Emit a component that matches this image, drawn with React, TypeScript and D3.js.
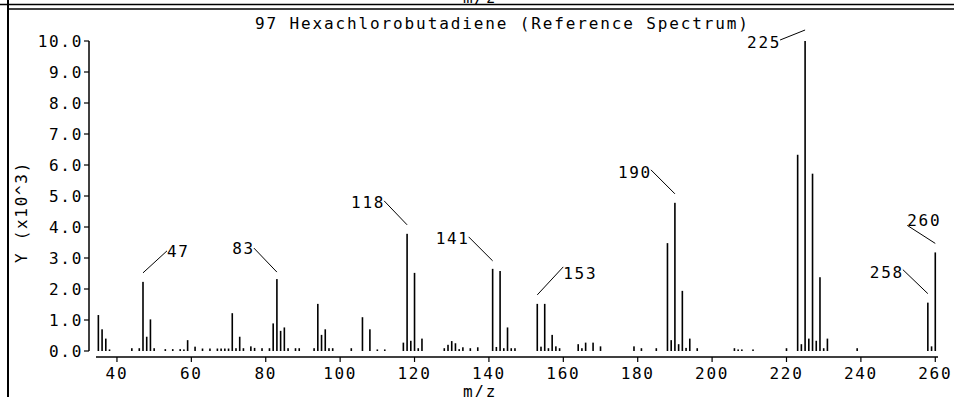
import React from "react";
import * as d3 from "d3";

// m/z values and intensities (units of 10^3)
const mzValues = [
  35, 36, 37, 38, 44, 46, 47, 48, 49, 50, 53, 55, 57, 58, 59, 61, 63, 65, 67, 68, 69, 70,
  71, 72, 73, 74, 76, 77, 79, 81, 82, 83, 84, 85, 86, 88, 89, 93, 94, 95, 96, 97, 98, 103,
  106, 108, 110, 112, 117, 118, 119, 120, 121, 122, 128, 129, 130, 131, 132, 133, 135, 137,
  141, 142, 143, 144, 145, 146, 147, 153, 154, 155, 156, 157, 158, 159, 164, 165, 166, 168,
  170, 179, 181, 185, 188, 189, 190, 191, 192, 193, 194, 196, 206, 207, 208, 211, 220, 223,
  224, 225, 226, 227, 228, 229, 230, 231, 239, 258, 259, 260,
];
const intensities = [
  1.16, 0.7, 0.4, 0.05, 0.09, 0.09, 2.23, 0.46, 1.02, 0.09, 0.06, 0.06, 0.06, 0.05, 0.35, 0.14, 0.08, 0.08, 0.08, 0.08, 0.08, 0.08,
  1.22, 0.09, 0.46, 0.09, 0.15, 0.1, 0.09, 0.09, 0.89, 2.32, 0.65, 0.76, 0.09, 0.09, 0.09, 0.09, 1.52, 0.52, 0.7, 0.09, 0.09, 0.09,
  1.09, 0.7, 0.05, 0.05, 0.27, 3.78, 0.33, 2.52, 0.09, 0.4, 0.09, 0.2, 0.32, 0.25, 0.06, 0.12, 0.09, 0.12,
  2.65, 0.13, 2.58, 0.09, 0.76, 0.09, 0.09, 1.52, 0.14, 1.52, 0.09, 0.52, 0.15, 0.09, 0.22, 0.09, 0.27, 0.27,
  0.15, 0.15, 0.09, 0.09, 3.48, 0.35, 4.78, 0.22, 1.94, 0.1, 0.4, 0.09, 0.09, 0.05, 0.05, 0.05, 0.09, 6.33,
  0.22, 10.0, 0.4, 5.72, 0.33, 2.38, 0.09, 0.4, 0.09, 1.56, 0.15, 3.18,
];

const labelledPeaks = [47, 83, 118, 141, 153, 190, 225, 258, 260];
const xTicks = [40, 60, 80, 100, 120, 140, 160, 180, 200, 220, 240, 260];
const yTicks = [0, 1, 2, 3, 4, 5, 6, 7, 8, 9, 10];

const title = "97 Hexachlorobutadiene (Reference Spectrum)";
const xLabel = "m/z";
const yLabel = "Y (x10^3)";

// annotation leader-line layout (pixel offsets relative to bar top)
const annLayout: Record<number, { x1: number; y1: number; x2: number; y2: number; anchor: string; ty: number }> = {
  47: { x1: 0, y1: -9, x2: 24, y2: -31, anchor: "start", ty: -31 },
  83: { x1: 0, y1: -7, x2: -23, y2: -31, anchor: "end", ty: -31 },
  118: { x1: 0, y1: -9, x2: -23, y2: -33, anchor: "end", ty: -32 },
  141: { x1: 0, y1: -8, x2: -24, y2: -32, anchor: "end", ty: -31 },
  153: { x1: 0, y1: -9, x2: 26, y2: -37, anchor: "start", ty: -31 },
  190: { x1: 0, y1: -9, x2: -24, y2: -33, anchor: "end", ty: -31 },
  225: { x1: 0, y1: -11, x2: -25, y2: -1, anchor: "end", ty: 1 },
  258: { x1: 0, y1: -9, x2: -25, y2: -33, anchor: "end", ty: -31 },
  260: { x1: 0, y1: -9, x2: -28, y2: -27, anchor: "start", ty: -32 },
};

const FONT = "'DejaVu Sans Mono', 'Liberation Mono', monospace";

export default function App() {
  const W = 954;
  const H = 397;
  const x = d3.scaleLinear().domain([34.5, 261]).range([96.5, 939]);
  const y = d3.scaleLinear().domain([0, 10]).range([351, 41]);
  const axisY = 357;
  const fmt = d3.format(".1f");

  const textStyle: React.CSSProperties = { fontFamily: FONT, fontSize: 16, letterSpacing: 1.7 };

  return (
    <svg
      width={W}
      height={H}
      style={{ position: "absolute", left: 0, top: 0, background: "#fff" }}
      viewBox={`0 0 ${W} ${H}`}
    >
      <rect x={0} y={0} width={W} height={H} fill="#fff" />
      {/* frame remnants */}
      <line x1={0} x2={W} y1={4.5} y2={4.5} stroke="#000" strokeWidth={1.5} />
      <line x1={8} x2={W} y1={9} y2={9} stroke="#000" strokeWidth={1.5} />
      <line x1={8} x2={8} y1={0} y2={H} stroke="#000" strokeWidth={2} />
      <text x={480} y={3} textAnchor="middle" fill="#000" style={textStyle}>
        {xLabel}
      </text>

      {/* title */}
      <text x={255} y={29} fill="#000" textLength={493} lengthAdjust="spacing" style={{ fontFamily: FONT, fontSize: 16 }}>
        {title}
      </text>

      {/* y axis */}
      <line x1={89} x2={89} y1={y(10)} y2={y(0)} stroke="#000" strokeWidth={1.5} />
      {yTicks.map((t) => (
        <g key={t}>
          <line x1={84} x2={89} y1={y(t)} y2={y(t)} stroke="#000" strokeWidth={1.2} />
          <text x={83} y={y(t) + 6} textAnchor="end" fill="#000" style={textStyle}>
            {fmt(t)}
          </text>
        </g>
      ))}
      <text
        transform={`translate(27,212) rotate(-90)`}
        textAnchor="middle"
        fill="#000"
        style={textStyle}
      >
        {yLabel}
      </text>

      {/* x axis */}
      <line x1={96} x2={938} y1={axisY} y2={axisY} stroke="#000" strokeWidth={1.5} />
      {xTicks.map((t) => (
        <g key={t}>
          <line x1={x(t)} x2={x(t)} y1={axisY} y2={axisY + 5} stroke="#000" strokeWidth={1.2} />
          <text x={x(t)} y={378.5} textAnchor="middle" fill="#000" style={textStyle}>
            {t}
          </text>
        </g>
      ))}
      <text x={480} y={397} textAnchor="middle" fill="#000" style={textStyle}>
        {xLabel}
      </text>

      {/* bars */}
      {mzValues.map((m, i) => (
        <rect
          key={m}
          x={x(m) - 0.8}
          y={y(intensities[i])}
          width={1.6}
          height={y(0) - y(intensities[i])}
          fill="#000"
        />
      ))}

      {/* annotations */}
      {labelledPeaks.map((m) => {
        const i = mzValues.indexOf(m);
        const bx = x(m);
        const by = y(intensities[i]);
        const a = annLayout[m];
        return (
          <g key={m}>
            <line
              x1={bx + a.x1}
              y1={by + a.y1}
              x2={bx + a.x2}
              y2={by + a.y2}
              stroke="#000"
              strokeWidth={1}
            />
            <text
              x={bx + a.x2 + (a.anchor === "end" ? 1 : 0)}
              y={by + a.ty + 6}
              textAnchor={a.anchor as any}
              fill="#000"
              style={textStyle}
            >
              {m}
            </text>
          </g>
        );
      })}
    </svg>
  );
}
